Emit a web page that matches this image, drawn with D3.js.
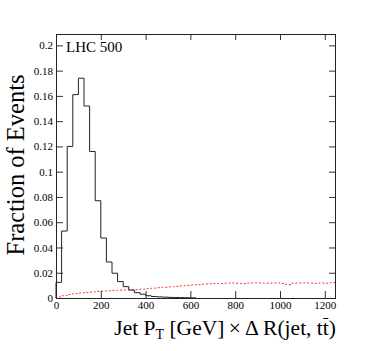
<!DOCTYPE html>
<html lang="en-US">
<head>
<meta charset="utf-8">
<title>Jet PT x dR</title>
<script src="https://cdn.jsdelivr.net/npm/d3@7"></script>
<style>
  body { margin: 0; background: #fff; }
  text { font-family: "Liberation Serif", "DejaVu Serif", serif; }
</style>
</head>
<body>
<div class="chart"></div>
<script>
// 25 GeV bins from 0 to 1250
const binWidth = 25;
const nBins = 50;
const xTicks = [0, 200, 400, 600, 800, 1000, 1200];
const yTicks = [0, 0.02, 0.04, 0.06, 0.08, 0.1, 0.12, 0.14, 0.16, 0.18, 0.2];

// black histogram (non-zero part, then zeros)
const blackVals = [0.0124, 0.053, 0.120, 0.161, 0.174, 0.152, 0.116, 0.077, 0.0475, 0.0285,
                   0.0196, 0.013, 0.009, 0.0063, 0.0042, 0.003, 0.0018, 0.0012, 0.0009, 0.0007,
                   0.0005, 0.0004, 0.0003, 0.0002, 0.0001];

// red dashed histogram
const redVals = [0.0008, 0.0018, 0.0028, 0.0035, 0.0040, 0.0044, 0.0047, 0.0052, 0.0055, 0.0057,
                 0.0060, 0.0062, 0.0064, 0.0065, 0.0067, 0.0070, 0.0074, 0.0078, 0.0082, 0.0085,
                 0.0088, 0.0092, 0.0096, 0.0100, 0.0103, 0.0106, 0.0110, 0.0113, 0.0116, 0.0114,
                 0.0117, 0.0119, 0.0116, 0.0114, 0.0118, 0.0120, 0.0119, 0.0117, 0.0118, 0.0119,
                 0.0116, 0.0107, 0.0118, 0.0119, 0.0120, 0.0118, 0.0116, 0.0119, 0.0117, 0.0122];

const W = 374, H = 351;
const fLeft = 56, fRight = 336, fTop = 34, fBottom = 298;

const svg = d3.select(".chart")
    .append("svg")
    .attr("width", W)
    .attr("height", H);

const x = d3.scaleLinear().domain([0, nBins * binWidth]).range([fLeft, fRight]);
const y = d3.scaleLinear().domain([0, 0.209]).range([fBottom, fTop]);

// step outline of a histogram, starting and ending on the baseline
const stepPoints = function(vals) {
    let pts = [[0, 0]];
    vals.forEach((v, i) => {
        pts.push([i * binWidth, v]);
        pts.push([(i + 1) * binWidth, v]);
    });
    pts.push([vals.length * binWidth, 0]);
    return pts;
};

const line = d3.line()
    .x(d => x(d[0]))
    .y(d => y(d[1]));

svg.append("path")
    .attr("fill", "none")
    .attr("stroke", "#ff3030")
    .attr("stroke-width", 1)
    .attr("stroke-dasharray", "2,2")
    .attr("d", line(stepPoints(redVals).slice(0, -1)));

svg.append("path")
    .attr("fill", "none")
    .attr("stroke", "#222")
    .attr("stroke-width", 1)
    .attr("d", line(stepPoints(blackVals)));

const fmt = d => d === 0 ? "0" : String(+d.toFixed(2));

// axes, ticks pointing inward
svg.append("g")
    .attr("transform", `translate(0,${fBottom})`)
    .call(d3.axisBottom(x).tickValues(xTicks).tickSizeInner(-7).tickSizeOuter(0).tickPadding(3).tickFormat(fmt));

svg.append("g")
    .attr("transform", `translate(0,${fTop})`)
    .call(d3.axisTop(x).tickValues(xTicks.slice(1)).tickSizeInner(-6).tickSizeOuter(0).tickFormat(""));

svg.append("g")
    .attr("transform", `translate(${fLeft},0)`)
    .call(d3.axisLeft(y).tickValues(yTicks).tickSizeInner(-7).tickSizeOuter(0).tickPadding(3).tickFormat(fmt));

svg.append("g")
    .attr("transform", `translate(${fRight},0)`)
    .call(d3.axisRight(y).tickValues(yTicks.slice(1)).tickSizeInner(-7).tickSizeOuter(0).tickFormat(""));

svg.selectAll(".domain").remove();
svg.selectAll(".tick line").attr("stroke", "#333");
svg.selectAll(".tick text")
    .attr("fill", "#000")
    .attr("font-family", "'Liberation Serif', serif")
    .attr("font-size", "11px");

// frame
svg.append("rect")
    .attr("x", fLeft + 0.5)
    .attr("y", fTop + 0.5)
    .attr("width", fRight - fLeft - 1)
    .attr("height", fBottom - fTop)
    .attr("fill", "none")
    .attr("stroke", "#222");

svg.append("text")
    .attr("x", 66)
    .attr("y", 52)
    .attr("font-size", "15px")
    .text("LHC 500");

// y title
svg.append("text")
    .attr("transform", `translate(24,165) rotate(-90)`)
    .attr("text-anchor", "middle")
    .attr("font-size", "24.5px")
    .text("Fraction of Events");

// x title
const xt = svg.append("text")
    .attr("x", 336)
    .attr("y", 335)
    .attr("text-anchor", "end")
    .attr("font-size", "21.5px");
xt.append("tspan").text("Jet P");
xt.append("tspan").attr("font-size", "14px").attr("dy", 4).text("T");
xt.append("tspan").attr("dy", -4).text(" [GeV]\u2009\u00d7\u2009\u0394 R(jet, t");
const tbar = xt.append("tspan").text("t");
xt.append("tspan").text(")");

// bar over the second t
const tb = tbar.node().getBBox();
svg.append("line")
    .attr("x1", tb.x + 0.5)
    .attr("x2", tb.x + tb.width - 0.5)
    .attr("y1", 335 - 16.5)
    .attr("y2", 335 - 16.5)
    .attr("stroke", "#000")
    .attr("stroke-width", 1);
</script>
</body>
</html>
